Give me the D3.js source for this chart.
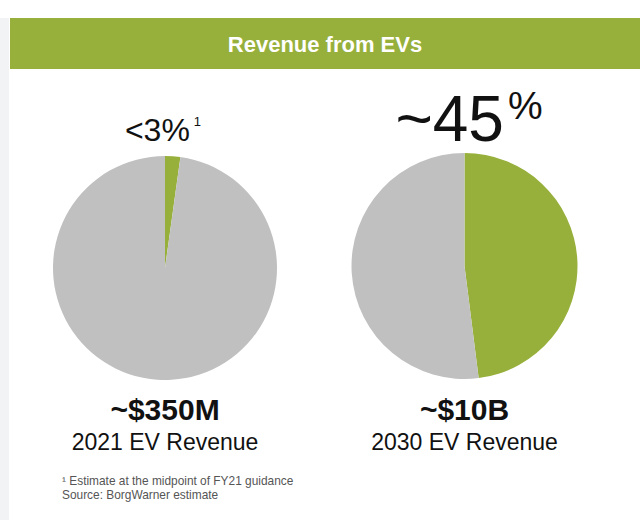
<!DOCTYPE html>
<html><head><meta charset="utf-8">
<script src="https://cdn.jsdelivr.net/npm/d3@7"></script>
<style>html,body{margin:0;padding:0;background:#fff;}svg{display:block;}</style>
</head><body>
<script>
const title = "Revenue from EVs";
const categories = ["2021 EV Revenue", "2030 EV Revenue"];
const evShare = [2.2, 48.0];          // % of revenue from EVs (green slice)
const shareLabels = ["<3%", "~45"];
const shareSup = ["1", "%"];
const revenueLabels = ["~$350M", "~$10B"];
const footnotes = ["\u00b9 Estimate at the midpoint of FY21 guidance", "Source: BorgWarner estimate"];
const colors = {ev: "#97b03b", other: "#c0c0c0", band: "#97b03b", strip: "#f2f3f5"};

const W = 640, H = 520;
const svg = d3.select("body").append("svg").attr("width", W).attr("height", H);

svg.append("rect").attr("x", 0).attr("y", 18).attr("width", 9).attr("height", H - 18).attr("fill", colors.strip);
svg.append("rect").attr("x", 10).attr("y", 18).attr("width", W - 10).attr("height", 51).attr("fill", colors.band);
svg.append("text").attr("x", 325).attr("y", 52).attr("text-anchor", "middle")
  .attr("font-family", "Liberation Sans, Arial, sans-serif").attr("font-weight", "bold")
  .attr("font-size", 22).attr("fill", "#fff").text(title);

const cx = d3.scaleOrdinal().domain(categories).range([165, 464.5]);
const cy = d3.scaleOrdinal().domain(categories).range([268, 266]);
const radius = [112, 113];

const pie = d3.pie().sort(null).value(d => d.v);

categories.forEach((c, i) => {
  const g = svg.append("g").attr("transform", `translate(${cx(c)},${cy(c)})`);
  const arc = d3.arc().innerRadius(0).outerRadius(radius[i]);
  const data = pie([{k: "ev", v: evShare[i]}, {k: "other", v: 100 - evShare[i]}]);
  g.selectAll("path").data(data).join("path")
    .attr("d", arc).attr("fill", d => colors[d.data.k]);
});

const font = "Liberation Sans, Arial, sans-serif";
// left share label
const t1 = svg.append("text").attr("x", 163).attr("y", 141).attr("text-anchor", "middle")
  .attr("font-family", font).attr("font-size", 32).attr("fill", "#111");
t1.append("tspan").text(shareLabels[0]);
t1.append("tspan").attr("font-size", 13).attr("dy", -15).attr("dx", 4).text(shareSup[0]);

// right share label
const t2 = svg.append("text").attr("x", 469).attr("y", 141).attr("text-anchor", "middle")
  .attr("font-family", font).attr("font-size", 64).attr("fill", "#111");
t2.append("tspan").text(shareLabels[1]);
t2.append("tspan").attr("font-size", 39).attr("dy", -22).attr("dx", 4).text(shareSup[1]);

categories.forEach((c, i) => {
  svg.append("text").attr("x", cx(c)).attr("y", 420).attr("text-anchor", "middle")
    .attr("font-family", font).attr("font-weight", "bold").attr("font-size", 30).attr("fill", "#111")
    .text(revenueLabels[i]);
  svg.append("text").attr("x", cx(c)).attr("y", 450).attr("text-anchor", "middle")
    .attr("font-family", font).attr("font-size", 23).attr("fill", "#111")
    .text(c);
});

footnotes.forEach((f, i) => {
  svg.append("text").attr("x", 62).attr("y", 485 + i * 13.5)
    .attr("font-family", font).attr("font-size", 11.9).attr("fill", "#555").text(f);
});
</script>
</body></html>
